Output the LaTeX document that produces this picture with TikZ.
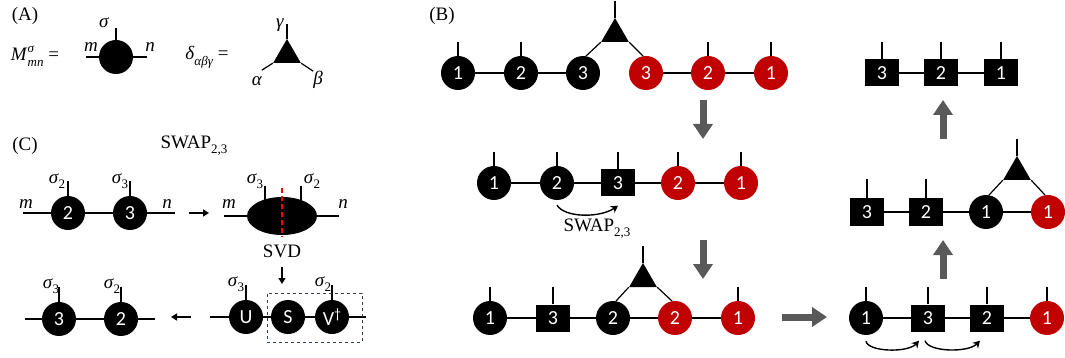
\documentclass[tikz,border=0pt]{standalone}
\usepackage{fontspec}
\setmainfont{Liberation Serif}
\newfontfamily\numfont{Carlito}
\usetikzlibrary{shapes.geometric,arrows.meta}
\definecolor{myred}{HTML}{C00000}
\definecolor{mygray}{HTML}{595959}
\definecolor{boxblue}{HTML}{333F50}
\newcommand\mysmall{\fontsize{13}{13}\selectfont}
\newcommand\mysubs[2]{\textit{#1}\raisebox{-0.28em}{\mysmall #2}}
\begin{document}
\begin{tikzpicture}[x=1pt,y=-1pt,
  bc/.style={circle,fill=black,minimum size=34pt,inner sep=0pt,text=white,font=\numfont\fontsize{20}{20}\selectfont},
  rc/.style={bc,fill=myred},
  sq/.style={rectangle,fill=black,minimum width=34pt,minimum height=27pt,inner sep=0pt,text=white,font=\numfont\fontsize{20}{20}\selectfont},
  tri/.style={regular polygon,regular polygon sides=3,fill=black,minimum size=32pt,inner sep=0pt},
  bond/.style={line width=1.2pt},
  garrow/.style={line width=7pt,mygray,-{Triangle[width=19pt,length=15pt]}},
  barrow/.style={line width=1.6pt,-{Triangle[width=7pt,length=6pt]}},
  carrow/.style={line width=1.4pt,-{Stealth[width=8pt,length=7pt]}},
  lbl/.style={font=\fontsize{19}{22}\selectfont,inner sep=0pt}]
\useasboundingbox (0,0) rectangle (1065,358);

% ---------- (A)
\node[lbl] (Alab) at (25,16) {(A)};
\node[lbl] (Meq) at (35,56) {\textit{M}\makebox[0pt][l]{\raisebox{0.42em}{\mysmall\textit{σ}}}\raisebox{-0.3em}{\mysmall\textit{mn}} =};
\node[bc] (M) at (116,57) {};
\coordinate (Ml) at (86,57);
\coordinate (Mr) at (147,57);
\draw[bond] (Ml) -- (M) -- (Mr);
\draw[bond] (M.north) -- ++(0,-12);
\node[lbl] (Msig) at (104,23) {\textit{σ}};
\node[lbl] (Mm) at (91,47) {\textit{m}};
\node[lbl] (Mn) at (150,47) {\textit{n}};

\node[lbl] (Deq) at (207,57) {\textit{δ}\raisebox{-0.3em}{\mysmall\textit{αβγ}} =};
\node[tri] (D) at (287,55) {};
\draw[bond] (D.corner 1) -- ++(0,-15);
\draw[bond] (D.corner 2) -- ++(-11,7);
\draw[bond] (D.corner 3) -- ++(12,8);
\node[lbl] (Dg) at (280,25) {\textit{γ}};
\node[lbl] (Da) at (257,81) {\textit{α}};
\node[lbl] (Db) at (318,80) {\textit{β}};

% ---------- (C)
\node[lbl] (Clab) at (25,146) {(C)};
\node[lbl] (Cswap) at (194,146) {SWAP\raisebox{-0.28em}{\mysmall 2,3}};

\node[bc] (c2a) at (68,213) {2};
\node[bc] (c3a) at (130,213) {3};
\coordinate (cm1) at (23,213);
\coordinate (cn1) at (175,213);
\draw[bond] (cm1) -- (c2a) -- (c3a) -- (cn1);
\draw[bond] (c2a.north) -- ++(0,-15);
\draw[bond] (c3a.north) -- ++(0,-15);
\node[lbl] at (26,204) {\textit{m}};
\node[lbl] at (167,204) {\textit{n}};
\node[lbl] at (57,181) {\mysubs{σ}{2}};
\node[lbl] at (120,181) {\mysubs{σ}{3}};

\coordinate (ar1s) at (189,213);
\coordinate (ar1e) at (209,213);
\draw[barrow] (ar1s) -- (ar1e);

\node[ellipse,fill=black,minimum width=70pt,minimum height=38pt,inner sep=0pt] (E) at (282,216) {};
\coordinate (em) at (224,216);
\coordinate (en) at (339,216);
\draw[bond] (em) -- (E) -- (en);
\coordinate (el1) at (265,186);
\coordinate (el2) at (301,186);
\draw[bond] (el1) -- ++(0,15);
\draw[bond] (el2) -- ++(0,15);
\node[lbl] at (229,204) {\textit{m}};
\node[lbl] at (343,204) {\textit{n}};
\node[lbl] at (255,181) {\mysubs{σ}{3}};
\node[lbl] at (312,181) {\mysubs{σ}{2}};
\coordinate (rd1) at (282,188);
\coordinate (rd2) at (282,237);
\draw[red,line width=1.3pt,dash pattern=on 5pt off 3pt] (rd1) -- (rd2);
\node[lbl] (svd) at (282,251) {SVD};
\coordinate (ar2s) at (282,267);
\coordinate (ar2e) at (282,284);
\draw[barrow] (ar2s) -- (ar2e);

\node[bc] (cU) at (246,317) {U};
\node[bc] (cS) at (288,317) {S};
\node[bc] (cV) at (332,317) {V\raisebox{0.35em}{\fontsize{14}{14}\selectfont †}};
\coordinate (uvl) at (210,317);
\coordinate (uvr) at (366,317);
\draw[bond] (uvl) -- (cU) -- (cS) -- (cV) -- (uvr);
\draw[bond] (cU.north) -- ++(0,-15);
\draw[bond] (cV.north) -- ++(0,-15);
\node[lbl] at (236,284) {\mysubs{σ}{3}};
\node[lbl] at (323,284) {\mysubs{σ}{2}};
\node[draw=boxblue,dashed,line width=0.8pt,minimum width=95pt,minimum height=49pt,inner sep=0pt] (box) at (314.5,317.5) {};

\coordinate (ar3s) at (191,317);
\coordinate (ar3e) at (171,317);
\draw[barrow] (ar3s) -- (ar3e);

\node[bc] (c3b) at (59,319) {3};
\node[bc] (c2b) at (121,319) {2};
\coordinate (cl2) at (25,319);
\coordinate (cr2) at (155,319);
\draw[bond] (cl2) -- (c3b) -- (c2b) -- (cr2);
\draw[bond] (c3b.north) -- ++(0,-15);
\draw[bond] (c2b.north) -- ++(0,-15);
\node[lbl] at (51,286) {\mysubs{σ}{3}};
\node[lbl] at (112,286) {\mysubs{σ}{2}};

% ---------- (B)
\node[lbl] (Blab) at (442,16) {(B)};
% row 1
\node[bc] (b11) at (458,73) {1};
\node[bc] (b12) at (521,73) {2};
\node[bc] (b13) at (583,73) {3};
\node[rc] (r13) at (646,73) {3};
\node[rc] (r12) at (708,73) {2};
\node[rc] (r11) at (771,73) {1};
\draw[bond] (b11) -- (b12) -- (b13);
\draw[bond] (r13) -- (r12) -- (r11);
\foreach \n in {b11,b12,r12,r11} \draw[bond] (\n.north) -- ++(0,-14);
\node[tri] (T1) at (615,34) {};
\draw[bond] (T1.corner 1) -- ++(0,-17);
\draw[bond] (T1.corner 2) -- (b13.80);
\draw[bond] (T1.corner 3) -- (r13.100);

\coordinate (g1s) at (703,100);
\coordinate (g1e) at (703,139);
\draw[garrow] (g1s) -- (g1e);

% row 2
\node[bc] (c21) at (494,183) {1};
\node[bc] (c22) at (557,183) {2};
\node[sq] (s23) at (618,183) {3};
\node[rc] (r22) at (678,183) {2};
\node[rc] (r21) at (741,183) {1};
\draw[bond] (c21) -- (c22) -- (s23) -- (r22) -- (r21);
\foreach \n in {c21,c22,r22,r21} \draw[bond] (\n.north) -- ++(0,-14);
\draw[bond] (s23.north) -- ++(0,-17);
\draw[carrow] ([yshift=-5pt]c22.south) .. controls (565,218) and (600,218) .. ([yshift=-9pt]s23.south);
\node[lbl] (sw2) at (597,229) {SWAP\raisebox{-0.28em}{\mysmall 2,3}};

\coordinate (g2s) at (703,240);
\coordinate (g2e) at (703,279);
\draw[garrow] (g2s) -- (g2e);

% row 3
\node[bc] (c31) at (490,318) {1};
\node[sq] (s32) at (553,318) {3};
\node[bc] (c33) at (613,318) {2};
\node[rc] (r34) at (675,318) {2};
\node[rc] (r35) at (738,318) {1};
\draw[bond] (c31) -- (s32) -- (c33) -- (r34) -- (r35);
\draw[bond] (c31.north) -- ++(0,-14);
\draw[bond] (r35.north) -- ++(0,-14);
\draw[bond] (s32.north) -- ++(0,-17);
\node[tri] (T3) at (643,279) {};
\draw[bond] (T3.corner 1) -- ++(0,-17);
\draw[bond] (T3.corner 2) -- (c33.80);
\draw[bond] (T3.corner 3) -- (r34.100);

\coordinate (g3s) at (782,317);
\coordinate (g3e) at (827,317);
\draw[garrow] (g3s) -- (g3e);

% right column bottom
\node[bc] (c41) at (866,318) {1};
\node[sq] (s43) at (928,318) {3};
\node[sq] (s42) at (987,318) {2};
\node[rc] (r41) at (1047,318) {1};
\draw[bond] (c41) -- (s43) -- (s42) -- (r41);
\draw[bond] (c41.north) -- ++(0,-14);
\draw[bond] (r41.north) -- ++(0,-14);
\draw[bond] (s43.north) -- ++(0,-17);
\draw[bond] (s42.north) -- ++(0,-17);
\draw[carrow] ([yshift=-6pt]c41.south) .. controls (868,352) and (908,353) .. ([xshift=-9pt,yshift=-9pt]s43.south);
\draw[carrow] ([xshift=-3pt,yshift=-9pt]s43.south) .. controls (928,352) and (968,353) .. ([xshift=-7pt,yshift=-9pt]s42.south);

\coordinate (g4s) at (943,279);
\coordinate (g4e) at (943,240);
\draw[garrow] (g4s) -- (g4e);

% right column middle
\node[sq] (s53) at (867,212) {3};
\node[sq] (s52) at (926,212) {2};
\node[bc] (c51) at (986,212) {1};
\node[rc] (r51) at (1048,212) {1};
\draw[bond] (s53) -- (s52) -- (c51) -- (r51);
\draw[bond] (s53.north) -- ++(0,-19);
\draw[bond] (s52.north) -- ++(0,-19);
\node[tri] (T5) at (1017,172) {};
\draw[bond] (T5.corner 1) -- ++(0,-17);
\draw[bond] (T5.corner 2) -- (c51.80);
\draw[bond] (T5.corner 3) -- (r51.100);

\coordinate (g5s) at (943,139);
\coordinate (g5e) at (943,100);
\draw[garrow] (g5s) -- (g5e);

% right column top
\node[sq] (s63) at (882,73) {3};
\node[sq] (s62) at (941,73) {2};
\node[sq] (s61) at (1001,73) {1};
\draw[bond] (s63) -- (s62) -- (s61);
\foreach \n in {s63,s62,s61} \draw[bond] (\n.north) -- ++(0,-17);
\end{tikzpicture}
\end{document}
